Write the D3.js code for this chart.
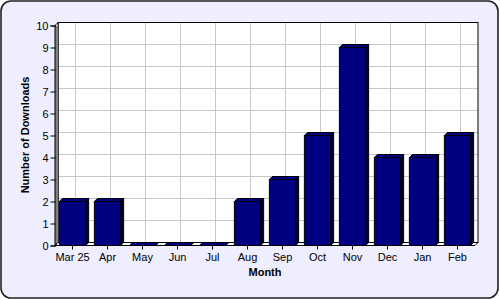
<!DOCTYPE html>
<html><head><meta charset="utf-8">
<script src="https://cdn.jsdelivr.net/npm/d3@7"></script>
<style>html,body{margin:0;padding:0;background:#fff;}svg{display:block;}</style>
</head><body>
<script>
const categories = ["Mar 25","Apr","May","Jun","Jul","Aug","Sep","Oct","Nov","Dec","Jan","Feb"];
const downloads = [2,2,0,0,0,2,3,5,9,4,4,5];
const yTicks = [0,1,2,3,4,5,6,7,8,9,10];
const xTitle = "Month";
const yTitle = "Number of Downloads";

const W = 500, H = 300, D = 3;
const font = "'Liberation Sans', Arial, sans-serif";
const svg = d3.select("body").append("svg").attr("width", W).attr("height", H);

// background panel
svg.append("rect").attr("x",1).attr("y",1).attr("width",497).attr("height",297)
  .attr("rx",10).attr("fill","#EEEEFF").attr("stroke","#222").attr("stroke-width",1.6);

const x = d3.scaleBand().domain(categories).range([55,475]).paddingInner(0.25).paddingOuter(0.125);
const y = d3.scaleLinear().domain([0,10]).range([245.5,25.5]);
const xc = d3.scaleBand().domain(categories).range([55,475]);

// back wall
svg.append("rect").attr("x",55+D).attr("y",y(10)-D).attr("width",420).attr("height",y(0)-y(10))
  .attr("fill","#fff");
// grid
const g = svg.append("g").attr("stroke","#C8C8C8").attr("stroke-width",1);
yTicks.forEach(t=>{ g.append("line").attr("x1",55+D).attr("x2",475+D).attr("y1",y(t)-D).attr("y2",y(t)-D); });
categories.forEach(c=>{ const cx = xc(c)+xc.bandwidth()/2 + D; g.append("line").attr("x1",cx).attr("x2",cx).attr("y1",y(10)-D).attr("y2",y(0)-D); });
svg.append("rect").attr("x",55+D).attr("y",y(10)-D).attr("width",420).attr("height",y(0)-y(10))
  .attr("fill","none").attr("stroke","#000").attr("stroke-width",1);
// left wall
svg.append("polygon").attr("points",[[55,y(10)],[55+D,y(10)-D],[55+D,y(0)-D],[55,y(0)]].join(" "))
  .attr("fill","#fff").attr("stroke","#000").attr("stroke-width",1);
// floor
svg.append("polygon").attr("points",[[55,y(0)],[55+D,y(0)-D],[475+D,y(0)-D],[475,y(0)]].join(" "))
  .attr("fill","#fff").attr("stroke","#000").attr("stroke-width",1);

// bars
const bars = svg.append("g").attr("stroke","#000").attr("stroke-width",1);
categories.forEach((c,i)=>{
  const x0 = x(c), w = x.bandwidth(), yt = y(downloads[i]), yb = y(0);
  // side
  bars.append("polygon").attr("points",[[x0+w,yt],[x0+w+D,yt-D],[x0+w+D,yb-D],[x0+w,yb]].join(" ")).attr("fill","#000033");
  // top
  bars.append("polygon").attr("points",[[x0,yt],[x0+D,yt-D],[x0+w+D,yt-D],[x0+w,yt]].join(" ")).attr("fill","#000080");
  // front
  if (downloads[i] > 0)
    bars.append("rect").attr("x",x0).attr("y",yt).attr("width",w).attr("height",yb-yt).attr("fill","#000080");
});

// axes
const ya = svg.append("g").attr("transform","translate(55.5,0)")
  .call(d3.axisLeft(y).tickValues(yTicks).tickSize(5).tickPadding(2).tickFormat(d3.format("d")));
ya.select(".domain").attr("stroke","#000");
const xa = svg.append("g").attr("transform",`translate(0,${y(0)})`)
  .call(d3.axisBottom(xc).tickSize(4).tickPadding(4));
xa.select(".domain").remove();
svg.selectAll(".tick text").attr("font-family",font).attr("font-size",11).attr("fill","#000");
svg.selectAll(".tick line").attr("stroke","#000");

svg.append("text").attr("x",265).attr("y",276).attr("text-anchor","middle")
  .attr("font-family",font).attr("font-size",11).attr("font-weight","bold").text(xTitle);
svg.append("text").attr("transform","translate(29,135) rotate(-90)").attr("text-anchor","middle")
  .attr("font-family",font).attr("font-size",11).attr("font-weight","bold").text(yTitle);
</script>
</body></html>
